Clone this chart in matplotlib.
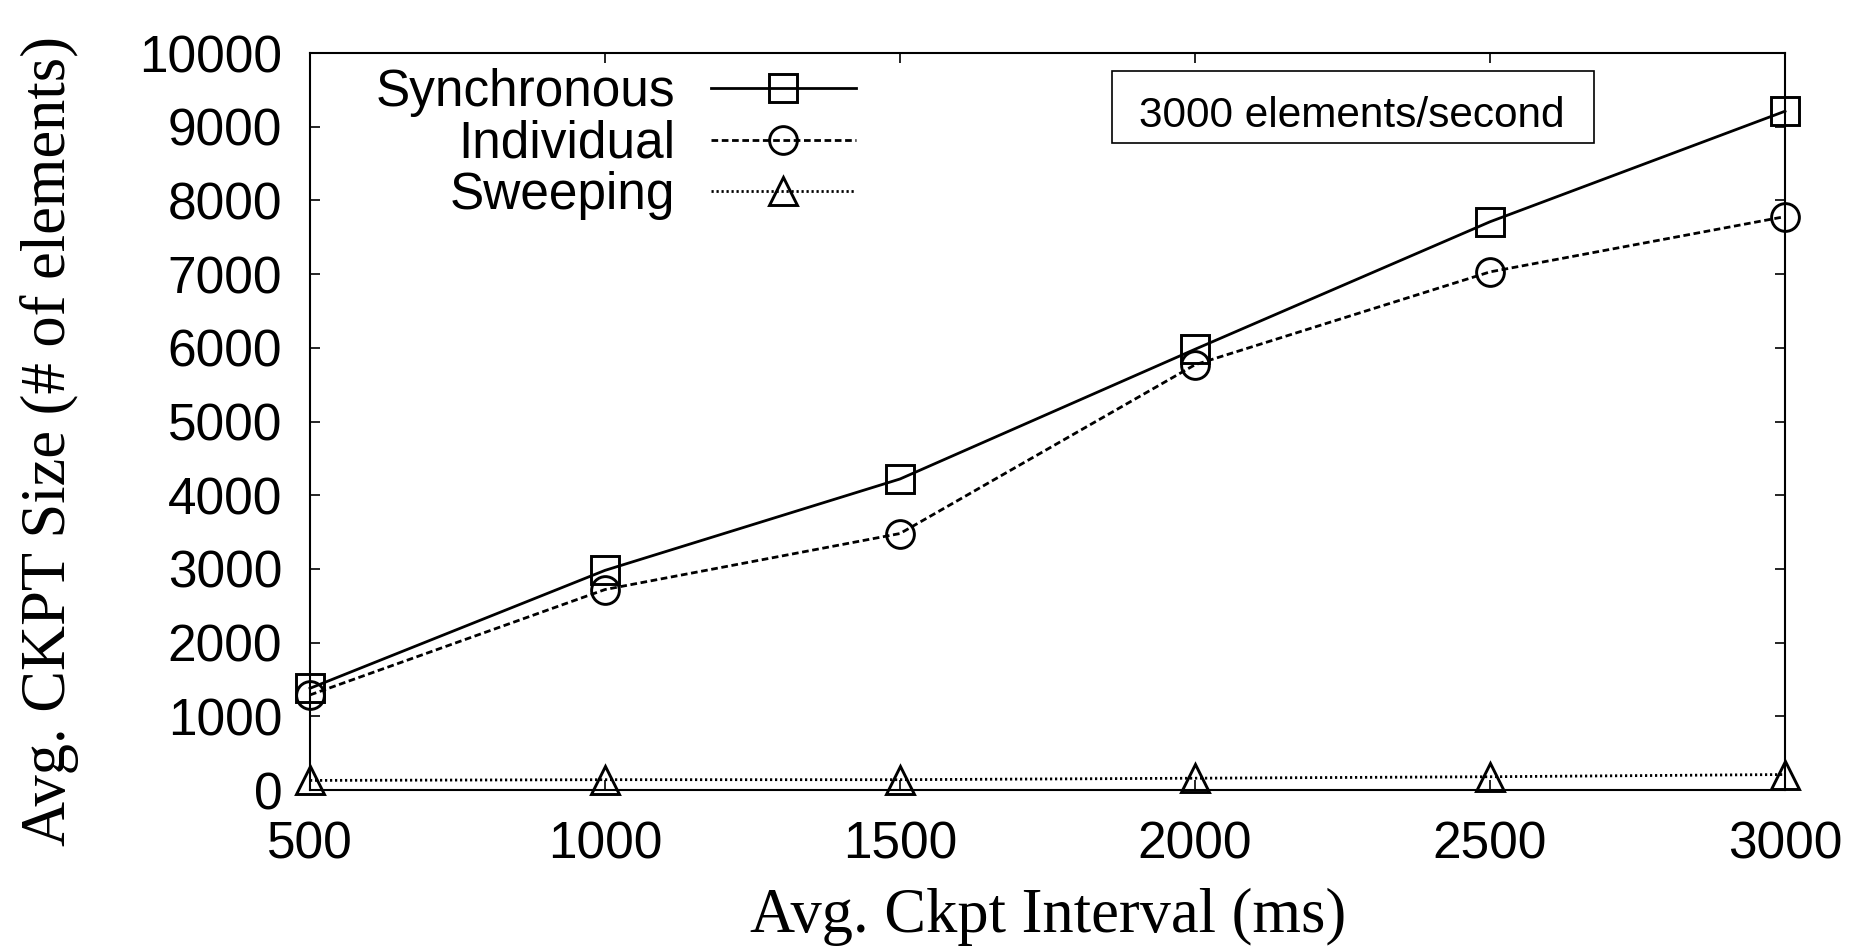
import matplotlib.pyplot as plt
from matplotlib.patches import Rectangle

interval = [500, 1000, 1500, 2000, 2500, 3000]
sync = [1380, 2980, 4220, 5980, 7710, 9210]
indiv = [1290, 2720, 3480, 5770, 7030, 7780]
sweep = [130, 140, 140, 160, 180, 210]

plt.rcParams['font.family'] = ['Liberation Sans', 'DejaVu Sans']

W, H = 1860, 950
fig = plt.figure(figsize=(W/100, H/100), dpi=100)
ax = fig.add_axes([310/W, 1 - 790/H, (1785-310)/W, (790-53)/H])

mk = dict(markersize=20, markerfacecolor='none', markeredgecolor='black', markeredgewidth=2.1,
          color='black', linewidth=2, clip_on=False, zorder=4)
ax.plot(interval, sync, marker='s', linestyle='-', label='Synchronous', **mk)
ax.plot(interval, indiv, marker='o', linestyle=(0, (2.4, 1.3)), label='Individual', **mk)
ax.plot(interval, sweep, marker='^', linestyle=(0, (0.8, 1.0)), label='Sweeping', **mk)

ax.set_xlim(500, 3000)
ax.set_ylim(0, 10000)
ax.set_xticks(interval)
ax.set_yticks(range(0, 10001, 1000))
ax.tick_params(direction='in', length=7, width=1.2, labelsize=37, top=True, right=True)
ax.tick_params(axis='y', pad=20)
ax.tick_params(axis='x', pad=22)
for s in ax.spines.values():
    s.set_linewidth(1.5)

ax.set_xlabel('Avg. Ckpt Interval (ms)', fontsize=45, family='Liberation Serif')
ax.set_ylabel('Avg. CKPT Size (# of elements)', fontsize=45, family='Liberation Serif')
ax.xaxis.label.set_va('center')
ax.yaxis.label.set_va('center')
ax.xaxis.set_label_coords((1048-310)/1475, (790-917)/737)
ax.yaxis.set_label_coords((50-310)/1475, (790-441)/737)

leg = ax.legend(loc='upper right', frameon=False, markerfirst=False, fontsize=37,
                handlelength=2.83, handletextpad=0.68, labelspacing=0.05,
                borderpad=0, borderaxespad=0,
                bbox_to_anchor=(856/W, 1 - 68/H), bbox_transform=fig.transFigure)
for t in leg.get_texts():
    t.set_ha('right')
leg._legend_box.align = 'right'

# annotation box, upper right
fig.patches.append(Rectangle((1112/W, 1 - 143/H), (1594-1112)/W, (143-71)/H,
                             transform=fig.transFigure, facecolor='white',
                             edgecolor='black', linewidth=1.2, zorder=5))
fig.text(1352/W, 1 - 127/H, '3000 elements/second', fontsize=30.5,
         ha='center', va='baseline', zorder=6)

fig.savefig('out.png', dpi=100)
